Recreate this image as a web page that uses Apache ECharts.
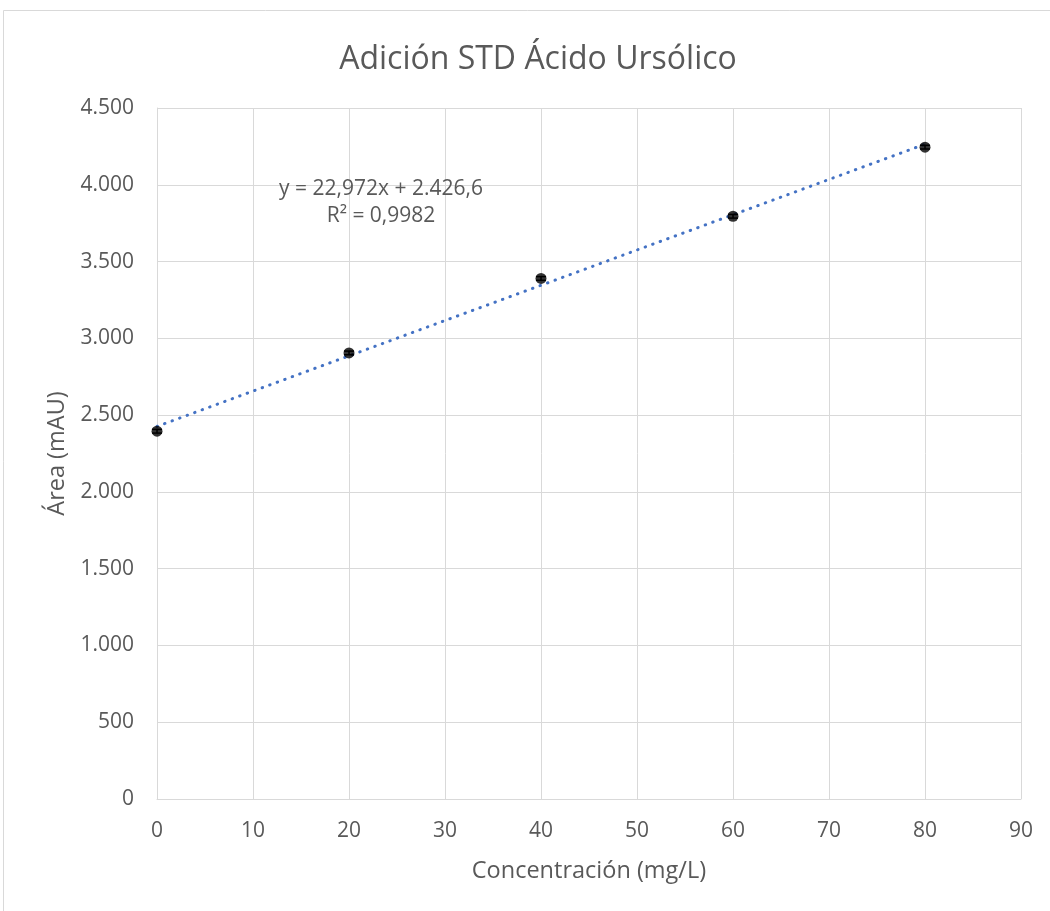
<!DOCTYPE html>
<html>
<head>
<meta charset="utf-8">
<script src="https://cdn.jsdelivr.net/npm/echarts@6/dist/echarts.min.js"></script>
<style>
  html, body { margin: 0; padding: 0; background: #fff; }
  #chart { width: 1050px; height: 911px; }
</style>
</head>
<body>
<div id="chart"></div>
<script>
// Standard addition of ursolic acid: concentration vs. peak area
const concentrations = [0, 20, 40, 60, 80];
const areas = [2395, 2905, 3390, 3795, 4245];
const areaErrors = [12, 12, 12, 12, 12];
const yTicks = [0, 500, 1000, 1500, 2000, 2500, 3000, 3500, 4000, 4500];
const xTicks = [0, 10, 20, 30, 40, 50, 60, 70, 80, 90];
// Linear fit reported on the chart
const fitSlope = 22.972;
const fitIntercept = 2426.6;
const fitR2 = 0.9982;

const textColor = '#595959';
const gridColor = '#d9d9d9';
const fontFamily = '"Open Sans", Lato, sans-serif';

function fmtThousands(v) {
  return String(v).replace(/\B(?=(\d{3})+(?!\d))/g, '.');
}
function fmtEs(v, digits) {
  const parts = v.toFixed(digits).split('.');
  return fmtThousands(parts[0]) + (parts[1] ? ',' + parts[1] : '');
}

const points = concentrations.map((c, i) => [c, areas[i]]);
const errorData = concentrations.map((c, i) => [c, areas[i] - areaErrors[i], areas[i] + areaErrors[i]]);
const xFirst = concentrations[0];
const xLast = concentrations[concentrations.length - 1];
const fitLine = [[xFirst, fitIntercept + fitSlope * xFirst], [xLast, fitIntercept + fitSlope * xLast]];

const chart = echarts.init(document.getElementById('chart'), null, { renderer: 'canvas' });
chart.setOption({
  animation: false,
  backgroundColor: '#fff',
  textStyle: { fontFamily: fontFamily },
  title: {
    text: 'Adición STD Ácido Ursólico',
    left: 533,
    top: 39,
    textAlign: 'center',
    textStyle: { color: textColor, fontSize: 32, fontWeight: 'normal', fontFamily: fontFamily }
  },
  graphic: [
    {
      type: 'rect',
      shape: { x: 3.5, y: 10.5, width: 1200, height: 1000 },
      style: { fill: 'none', stroke: gridColor, lineWidth: 1 },
      silent: true,
      z: -1
    },
    {
      type: 'text',
      x: 381,
      y: 176,
      style: {
        text: 'y = ' + fmtEs(fitSlope, 3) + 'x + ' + fmtEs(fitIntercept, 1) + '\nR² = ' + fmtEs(fitR2, 4),
        fill: textColor,
        font: '21px ' + fontFamily,
        align: 'center',
        verticalAlign: 'top',
        lineHeight: 27
      },
      z: 10
    }
  ],
  grid: { left: 157, right: 29, top: 108, bottom: 112 },
  xAxis: {
    type: 'value',
    min: xTicks[0],
    max: xTicks[xTicks.length - 1],
    interval: 10,
    name: 'Concentración (mg/L)',
    nameLocation: 'middle',
    nameGap: 60,
    nameTextStyle: { color: textColor, fontSize: 23.5, fontFamily: fontFamily },
    axisLine: { show: true, lineStyle: { color: gridColor, width: 1 } },
    axisTick: { show: false },
    axisLabel: { color: textColor, fontSize: 21, margin: 22, fontFamily: fontFamily },
    splitLine: { show: true, lineStyle: { color: gridColor, width: 1 } }
  },
  yAxis: {
    type: 'value',
    min: yTicks[0],
    max: yTicks[yTicks.length - 1],
    interval: 500,
    name: 'Área (mAU)',
    nameLocation: 'middle',
    nameGap: 86,
    nameTextStyle: { color: textColor, fontSize: 23.5, fontFamily: fontFamily },
    axisLine: { show: true, lineStyle: { color: gridColor, width: 1 } },
    axisTick: { show: false },
    axisLabel: { color: textColor, fontSize: 21, margin: 23, fontFamily: fontFamily, formatter: v => fmtThousands(v) },
    splitLine: { show: true, lineStyle: { color: gridColor, width: 1 } }
  },
  series: [
    {
      name: 'Tendencia',
      type: 'line',
      data: fitLine,
      symbol: 'none',
      lineStyle: { color: '#4472C4', width: 3, type: [0.5, 7.5], cap: 'round' },
      z: 3
    },
    {
      name: 'Error',
      type: 'custom',
      data: errorData,
      renderItem: function (params, api) {
        const x = api.value(0);
        const lo = api.coord([x, api.value(1)]);
        const hi = api.coord([x, api.value(2)]);
        const hw = 5;
        const style = { stroke: '#000', lineWidth: 1.5 };
        return {
          type: 'group',
          children: [
            { type: 'line', shape: { x1: lo[0], y1: lo[1], x2: hi[0], y2: hi[1] }, style: style },
            { type: 'line', shape: { x1: lo[0] - hw, y1: lo[1], x2: lo[0] + hw, y2: lo[1] }, style: style },
            { type: 'line', shape: { x1: hi[0] - hw, y1: hi[1], x2: hi[0] + hw, y2: hi[1] }, style: style }
          ]
        };
      },
      z: 4
    },
    {
      name: 'Área',
      type: 'scatter',
      data: points,
      symbol: 'circle',
      symbolSize: 11,
      itemStyle: { color: '#000' },
      z: 5
    }
  ]
});
</script>
</body>
</html>
